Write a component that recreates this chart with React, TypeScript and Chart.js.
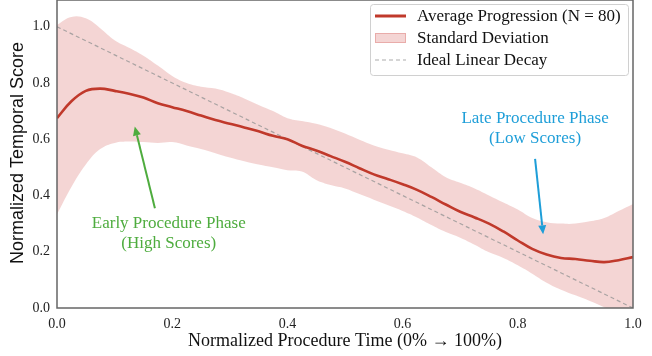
import React, { useEffect, useRef } from "react";
import { Chart, registerables } from "chart.js";

Chart.register(...registerables);

const xs = [0, 0.025, 0.05, 0.075, 0.1, 0.125, 0.15, 0.175, 0.2, 0.225, 0.25, 0.275, 0.3, 0.325, 0.35, 0.375, 0.4, 0.425, 0.45, 0.475, 0.5, 0.525, 0.55, 0.575, 0.6, 0.625, 0.65, 0.675, 0.7, 0.725, 0.75, 0.775, 0.8, 0.825, 0.85, 0.875, 0.9, 0.925, 0.95, 0.975, 1.0];

const meanVals = [0.675, 0.735, 0.772, 0.78, 0.772, 0.762, 0.748, 0.728, 0.714, 0.70, 0.684, 0.668, 0.655, 0.642, 0.628, 0.612, 0.60, 0.577, 0.56, 0.54, 0.52, 0.497, 0.475, 0.458, 0.44, 0.42, 0.395, 0.368, 0.342, 0.322, 0.30, 0.272, 0.24, 0.21, 0.19, 0.178, 0.174, 0.168, 0.163, 0.17, 0.181];

const upperVals = [1.007, 1.035, 1.03, 0.995, 0.952, 0.925, 0.897, 0.862, 0.825, 0.80, 0.787, 0.78, 0.765, 0.745, 0.722, 0.70, 0.675, 0.665, 0.655, 0.64, 0.62, 0.598, 0.578, 0.563, 0.55, 0.535, 0.50, 0.465, 0.445, 0.425, 0.40, 0.375, 0.35, 0.32, 0.305, 0.30, 0.30, 0.308, 0.32, 0.345, 0.37];

const lowerVals = [0.333, 0.43, 0.51, 0.565, 0.587, 0.592, 0.59, 0.587, 0.59, 0.578, 0.565, 0.55, 0.535, 0.522, 0.51, 0.50, 0.49, 0.485, 0.455, 0.437, 0.425, 0.405, 0.385, 0.365, 0.345, 0.322, 0.295, 0.27, 0.25, 0.225, 0.198, 0.178, 0.152, 0.122, 0.09, 0.065, 0.045, 0.025, 0.003, -0.02, -0.04];

const idealX = [0, 1];
const idealY = [1, 0];

const yTicks = [0, 0.2, 0.4, 0.6, 0.8, 1.0];
const xTicks = [0, 0.2, 0.4, 0.6, 0.8, 1.0];

const legendLabels = ["Average Progression (N = 80)", "Standard Deviation", "Ideal Linear Decay"];
const xTitle = "Normalized Procedure Time (0% \u2192 100%)";
const yTitle = "Normalized Temporal Score";

const earlyText = ["Early Procedure Phase", "(High Scores)"];
const earlyTextPos = [0.194, 0.263];
const earlyArrow = [0.17, 0.355, 0.135, 0.645];
const lateText = ["Late Procedure Phase", "(Low Scores)"];
const lateTextPos = [0.83, 0.638];
const lateArrow = [0.83, 0.53, 0.844, 0.262];

const RED = "rgb(192,57,43)";
const BAND = "rgba(210,80,75,0.24)";
const GREEN = "rgb(78,172,62)";
const BLUE = "rgb(30,158,216)";
const SERIF = "'Liberation Serif', 'Times New Roman', serif";
const SANS = "'Liberation Sans', Arial, sans-serif";

function pts(x: number[], y: number[]) {
  return x.map((v, i) => ({ x: v, y: y[i] }));
}

function drawArrow(ctx: CanvasRenderingContext2D, x1: number, y1: number, x2: number, y2: number, color: string) {
  const ang = Math.atan2(y2 - y1, x2 - x1);
  const head = 9;
  const hw = 4;
  const bx = x2 - head * Math.cos(ang);
  const by = y2 - head * Math.sin(ang);
  ctx.save();
  ctx.strokeStyle = color;
  ctx.fillStyle = color;
  ctx.lineWidth = 2;
  ctx.beginPath();
  ctx.moveTo(x1, y1);
  ctx.lineTo(bx, by);
  ctx.stroke();
  ctx.beginPath();
  ctx.moveTo(x2, y2);
  ctx.lineTo(bx + hw * Math.sin(ang), by - hw * Math.cos(ang));
  ctx.lineTo(bx - hw * Math.sin(ang), by + hw * Math.cos(ang));
  ctx.closePath();
  ctx.fill();
  ctx.restore();
}

const overlayPlugin = {
  id: "overlay",
  afterDatasetsDraw(chart: any) {
    const ctx: CanvasRenderingContext2D = chart.ctx;
    const xs_ = chart.scales.x;
    const ys_ = chart.scales.y;
    const ca = chart.chartArea;
    const txt = (lines: string[], pos: number[], color: string) => {
      ctx.save();
      ctx.fillStyle = color;
      ctx.font = `17px ${SERIF}`;
      ctx.textAlign = "center";
      ctx.textBaseline = "middle";
      const cx = xs_.getPixelForValue(pos[0]);
      const cy = ys_.getPixelForValue(pos[1]);
      const lh = 20;
      lines.forEach((l, i) => ctx.fillText(l, cx, cy + (i - (lines.length - 1) / 2) * lh));
      ctx.restore();
    };
    drawArrow(ctx, xs_.getPixelForValue(earlyArrow[0]), ys_.getPixelForValue(earlyArrow[1]), xs_.getPixelForValue(earlyArrow[2]), ys_.getPixelForValue(earlyArrow[3]), GREEN);
    drawArrow(ctx, xs_.getPixelForValue(lateArrow[0]), ys_.getPixelForValue(lateArrow[1]), xs_.getPixelForValue(lateArrow[2]), ys_.getPixelForValue(lateArrow[3]), BLUE);
    txt(earlyText, earlyTextPos, GREEN);
    txt(lateText, lateTextPos, BLUE);

    ctx.save();
    ctx.strokeStyle = "#666";
    ctx.lineWidth = 1.5;
    ctx.strokeRect(ca.left, ca.top, ca.right - ca.left, ca.bottom - ca.top);
    ctx.restore();

    ctx.save();
    ctx.fillStyle = "#111";
    ctx.font = `18px ${SERIF}`;
    ctx.textAlign = "center";
    ctx.textBaseline = "middle";
    ctx.fillText(xTitle, (ca.left + ca.right) / 2, 341);
    ctx.translate(18, 153);
    ctx.rotate(-Math.PI / 2);
    ctx.font = `18px ${SANS}`;
    ctx.fillText(yTitle, 0, 0);
    ctx.restore();

    const lx = 370, ly = 4, lw = 258, lh = 71;
    ctx.save();
    ctx.fillStyle = "rgba(255,255,255,0.85)";
    ctx.strokeStyle = "#d0d0d0";
    ctx.lineWidth = 1;
    ctx.beginPath();
    (ctx as any).roundRect(lx + 0.5, ly + 0.5, lw, lh, 3);
    ctx.fill();
    ctx.stroke();
    const rows = [16, 38, 60];
    ctx.strokeStyle = RED;
    ctx.lineWidth = 3;
    ctx.beginPath();
    ctx.moveTo(375, rows[0]);
    ctx.lineTo(406, rows[0]);
    ctx.stroke();
    ctx.fillStyle = BAND;
    ctx.fillRect(375, rows[1] - 5, 31, 10);
    ctx.strokeStyle = "rgba(210,80,75,0.3)";
    ctx.lineWidth = 1;
    ctx.strokeRect(375.5, rows[1] - 4.5, 30, 9);
    ctx.strokeStyle = "rgba(150,150,150,0.8)";
    ctx.lineWidth = 1.2;
    ctx.setLineDash([4, 3]);
    ctx.beginPath();
    ctx.moveTo(375, rows[2]);
    ctx.lineTo(406, rows[2]);
    ctx.stroke();
    ctx.setLineDash([]);
    ctx.fillStyle = "#111";
    ctx.font = `17px ${SERIF}`;
    ctx.textAlign = "left";
    ctx.textBaseline = "middle";
    legendLabels.forEach((l, i) => ctx.fillText(l, 417, rows[i] + 1));
    ctx.restore();
  },
};

export default function App() {
  const ref = useRef<HTMLCanvasElement | null>(null);
  useEffect(() => {
    document.body.style.margin = "0";
    if (!ref.current) return;
    const chart = new Chart(ref.current, {
      type: "line",
      data: {
        datasets: [
          {
            label: legendLabels[0],
            data: pts(xs, meanVals),
            borderColor: RED,
            borderWidth: 2.6,
            pointRadius: 0,
            tension: 0.4,
            fill: false,
            order: 0,
          },
          {
            label: legendLabels[2],
            data: pts(idealX, idealY),
            borderColor: "rgba(150,150,150,0.8)",
            borderWidth: 1.2,
            borderDash: [4, 3],
            pointRadius: 0,
            fill: false,
            order: 1,
          },
          {
            label: legendLabels[1],
            data: pts(xs, upperVals),
            borderColor: "rgba(0,0,0,0)",
            borderWidth: 0,
            backgroundColor: BAND,
            pointRadius: 0,
            tension: 0.4,
            fill: "+1",
            order: 2,
          },
          {
            label: "lower",
            data: pts(xs, lowerVals),
            borderColor: "rgba(0,0,0,0)",
            borderWidth: 0,
            pointRadius: 0,
            tension: 0.4,
            fill: false,
            order: 3,
          },
        ],
      },
      options: {
        animation: false,
        responsive: false,
        maintainAspectRatio: false,
        layout: { padding: { top: 0, right: 19, left: 0, bottom: 0 } },
        plugins: { legend: { display: false }, tooltip: { enabled: false } },
        scales: {
          x: {
            type: "linear",
            min: 0,
            max: 1,
            grid: { display: false, drawTicks: false },
            border: { display: false },
            afterBuildTicks: (s: any) => {
              s.ticks = xTicks.map((v) => ({ value: v }));
            },
            afterFit: (s: any) => {
              s.height = 48;
              s.paddingLeft = 0;
              s.paddingRight = 0;
            },
            ticks: {
              padding: 8,
              color: "#222",
              font: { family: SERIF, size: 14 },
              maxRotation: 0,
              callback: (v: any) => Number(v).toFixed(1),
            },
          },
          y: {
            type: "linear",
            min: 0,
            max: 1.095,
            grid: { display: false, drawTicks: false },
            border: { display: false },
            afterBuildTicks: (s: any) => {
              s.ticks = yTicks.map((v) => ({ value: v }));
            },
            afterFit: (s: any) => {
              s.width = 57;
              s.paddingTop = 0;
              s.paddingBottom = 0;
            },
            ticks: {
              padding: 7,
              color: "#222",
              font: { family: SERIF, size: 14 },
              callback: (v: any) => Number(v).toFixed(1),
            },
          },
        },
      },
      plugins: [overlayPlugin],
    } as any);
    return () => chart.destroy();
  }, []);
  return <canvas ref={ref} width={652} height={356} style={{ display: "block" }} />;
}
